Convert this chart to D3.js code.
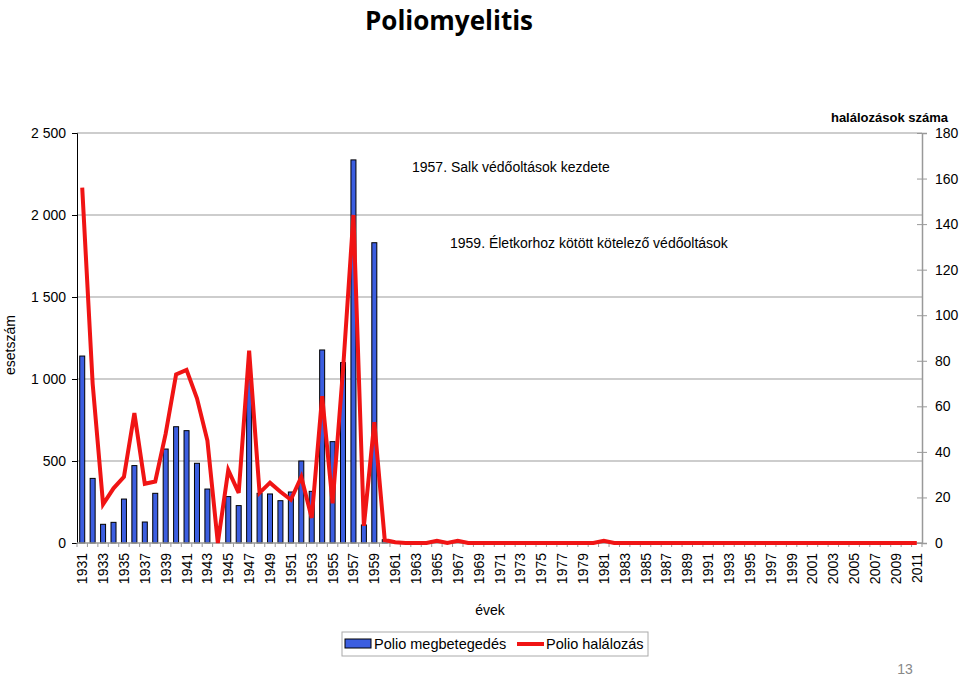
<!DOCTYPE html>
<html><head><meta charset="utf-8">
<script src="https://cdn.jsdelivr.net/npm/d3@7"></script>
<style>body{margin:0;background:#fff}svg text{font-family:"Liberation Sans",Arial,sans-serif}</style>
</head><body>
<svg id="c" width="960" height="676"></svg>
<script>
const years = d3.range(1931, 2012);
const cases = [1140,394,114,126,268,472,128,303,573,709,685,486,329,0,283,228,1000,303,299,258,311,500,315,1177,618,1100,2336,110,1831,20,
  0,0,0,0,0,0,0,0,0,0,0,0,0,0,0,0,0,0,0,0,0,0,0,0,0,0,0,0,0,0,0,0,0,0,0,0,0,0,0,0,0,0,0,0,0,0,0,0,0,0,0];
const deaths = [156,70,17,24,29,57,26,27,48,74,76,63.5,45,0,32,22,84.4,22,26.5,22.5,19,29,11,64.5,17.4,76,144,7.5,53,1.3,
  0.3,0,0,0,1,0,1,0,0,0,0,0,0,0,0,0,0,0,0,0,1,0,0,0,0,0,0,0,0,0,0,0,0,0,0,0,0,0,0,0,0,0,0,0,0,0,0,0,0,0,0];
const leftTicks = [0,500,1000,1500,2000,2500];
const rightTicks = [0,20,40,60,80,100,120,140,160,180];
const labels = {title:"Poliomyelitis", yLeft:"esetszám", yRight:"halálozások száma", x:"évek",
  s1:"Polio megbetegedés", s2:"Polio halálozás", ann1:"1957. Salk védőoltások kezdete",
  ann2:"1959. Életkorhoz  kötött kötelező védőoltások", page:"13"};

const svg = d3.select("#c");
const L = 77, R = 922, T = 133, B = 543;
const x = d3.scaleBand().domain(years).range([L, R]).paddingInner(0).paddingOuter(0);
const yL = d3.scaleLinear().domain([0, 2500]).range([B, T]);
const yR = d3.scaleLinear().domain([0, 180]).range([B, T]);
const fmt = d => d3.format(",")(d).replace(/,/g, " ");

// gridlines
svg.append("g").selectAll("line").data(leftTicks.filter(d => d > 0)).join("line")
  .attr("x1", L).attr("x2", R).attr("y1", d => yL(d)).attr("y2", d => yL(d))
  .attr("stroke", "#bdbdbd").attr("stroke-width", 1.5);

// bars
const bw = 5;
svg.append("g").selectAll("rect").data(years.map((y, i) => ({y, v: cases[i]})).filter(d => d.v > 0)).join("rect")
  .attr("x", d => x(d.y) + x.bandwidth() / 2 - bw / 2).attr("width", bw)
  .attr("y", d => yL(d.v)).attr("height", d => B - yL(d.v))
  .attr("fill", "#3c5ee0").attr("stroke", "#000").attr("stroke-width", 1);

// left axis
const gL = svg.append("g").attr("transform", `translate(${L},0)`)
  .call(d3.axisLeft(yL).tickValues(leftTicks).tickFormat(fmt).tickSize(5).tickPadding(6));
gL.select(".domain").attr("stroke", "#000");
gL.selectAll("text").attr("font-size", 14).attr("fill", "#000");

// right axis
const gR = svg.append("g").attr("transform", `translate(${R},0)`)
  .call(d3.axisRight(yR).tickValues(rightTicks).tickSize(5).tickPadding(8));
gR.select(".domain").attr("stroke", "#999").attr("stroke-width", 1.5);
gR.selectAll(".tick line").attr("stroke", "#999").attr("x1", -5).attr("x2", 5);
gR.selectAll("text").attr("font-size", 14).attr("fill", "#000");

// x axis
const gX = svg.append("g").attr("transform", `translate(0,${B})`);
gX.append("line").attr("x1", L).attr("x2", R).attr("stroke", "#999").attr("stroke-width", 1.5);
gX.selectAll(".tk").data(years.concat([2012])).join("line").attr("class", "tk")
  .attr("x1", d => d === 2012 ? R : x(d)).attr("x2", d => d === 2012 ? R : x(d))
  .attr("y1", 0).attr("y2", 4).attr("stroke", "#999");
gX.selectAll("text").data(years.filter(d => d % 2 === 1)).join("text")
  .attr("transform", d => `translate(${x(d) + x.bandwidth() / 2 + 5},10) rotate(-90)`)
  .attr("text-anchor", "end").attr("font-size", 14).attr("fill", "#000").text(d => d);

// line
const line = d3.line().x((d, i) => x(years[i]) + x.bandwidth() / 2).y(d => yR(d));
svg.append("path").datum(deaths).attr("d", line).attr("fill", "none")
  .attr("stroke", "#f01414").attr("stroke-width", 4).attr("stroke-linejoin", "miter").attr("stroke-miterlimit", 4);

// texts
svg.append("text").attr("x", 449).attr("y", 30).attr("text-anchor", "middle")
  .attr("font-size", 26).attr("font-weight", "bold").style("font-family", "'Open Sans',sans-serif").text(labels.title);
svg.append("text").attr("x", 412).attr("y", 172).attr("font-size", 14).text(labels.ann1);
svg.append("text").attr("x", 450).attr("y", 248).attr("font-size", 14).text(labels.ann2);
svg.append("text").attr("x", 948).attr("y", 122).attr("text-anchor", "end").attr("font-size", 13)
  .attr("font-weight", "bold").text(labels.yRight);
svg.append("text").attr("transform", "translate(15,345) rotate(-90)").attr("text-anchor", "middle")
  .attr("font-size", 14).text(labels.yLeft);
svg.append("text").attr("x", 490).attr("y", 615).attr("text-anchor", "middle").attr("font-size", 14).text(labels.x);
svg.append("text").attr("x", 905).attr("y", 674).attr("text-anchor", "middle").attr("font-size", 14)
  .attr("fill", "#888").text(labels.page);

// legend
const lg = svg.append("g");
lg.append("rect").attr("x", 342).attr("y", 632).attr("width", 306).attr("height", 24)
  .attr("fill", "#fff").attr("stroke", "#aaa");
lg.append("rect").attr("x", 345).attr("y", 639).attr("width", 26).attr("height", 9)
  .attr("fill", "#3c5ee0").attr("stroke", "#000");
lg.append("text").attr("x", 374).attr("y", 649).attr("font-size", 14.5).text(labels.s1);
lg.append("line").attr("x1", 517).attr("x2", 544).attr("y1", 644).attr("y2", 644)
  .attr("stroke", "#f01414").attr("stroke-width", 4);
lg.append("text").attr("x", 546).attr("y", 649).attr("font-size", 14.5).text(labels.s2);
</script>
</body></html>
